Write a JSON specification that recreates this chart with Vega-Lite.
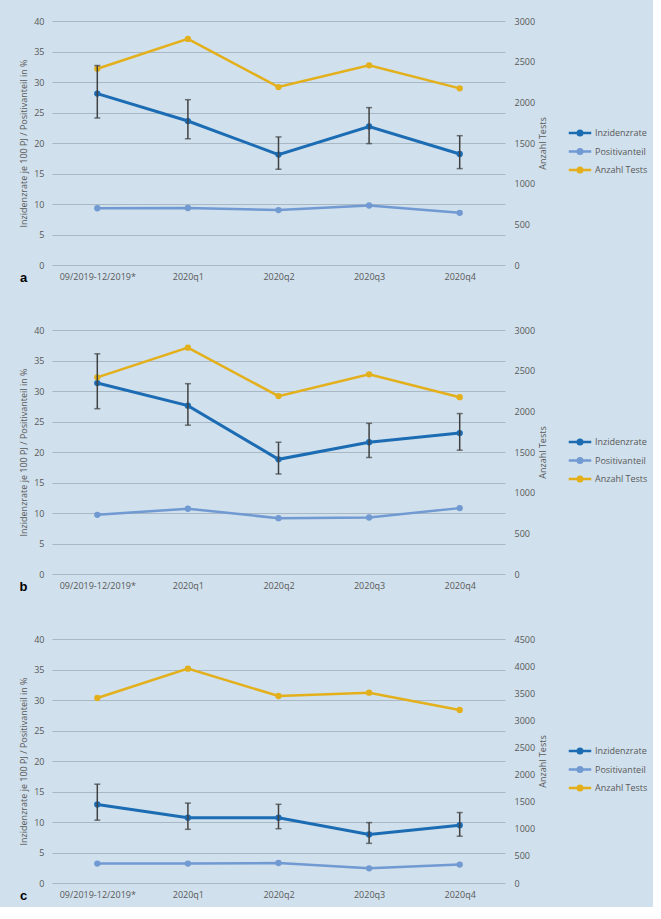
{
  "$schema": "https://vega.github.io/schema/vega-lite/v6.json",
  "background": "#d0e0ec",
  "padding": {"left": 19, "top": 17, "right": 5, "bottom": 5},
  "datasets": {
    "rows": [
      {"panel": "a", "period": "09/2019-12/2019*", "series": "Inzidenzrate", "value": 28.1, "lo": 24.1, "hi": 32.7},
      {"panel": "a", "period": "2020q1", "series": "Inzidenzrate", "value": 23.6, "lo": 20.7, "hi": 27.1},
      {"panel": "a", "period": "2020q2", "series": "Inzidenzrate", "value": 18.1, "lo": 15.7, "hi": 21.0},
      {"panel": "a", "period": "2020q3", "series": "Inzidenzrate", "value": 22.7, "lo": 19.9, "hi": 25.8},
      {"panel": "a", "period": "2020q4", "series": "Inzidenzrate", "value": 18.2, "lo": 15.8, "hi": 21.2},
      {"panel": "a", "period": "09/2019-12/2019*", "series": "Positivanteil", "value": 9.3},
      {"panel": "a", "period": "2020q1", "series": "Positivanteil", "value": 9.35},
      {"panel": "a", "period": "2020q2", "series": "Positivanteil", "value": 9.0},
      {"panel": "a", "period": "2020q3", "series": "Positivanteil", "value": 9.75},
      {"panel": "a", "period": "2020q4", "series": "Positivanteil", "value": 8.55},
      {"panel": "a", "period": "09/2019-12/2019*", "series": "Anzahl Tests", "value": 2413},
      {"panel": "a", "period": "2020q1", "series": "Anzahl Tests", "value": 2780},
      {"panel": "a", "period": "2020q2", "series": "Anzahl Tests", "value": 2188},
      {"panel": "a", "period": "2020q3", "series": "Anzahl Tests", "value": 2455},
      {"panel": "a", "period": "2020q4", "series": "Anzahl Tests", "value": 2172},
      {"panel": "b", "period": "09/2019-12/2019*", "series": "Inzidenzrate", "value": 31.3, "lo": 27.1, "hi": 36.1},
      {"panel": "b", "period": "2020q1", "series": "Inzidenzrate", "value": 27.6, "lo": 24.4, "hi": 31.2},
      {"panel": "b", "period": "2020q2", "series": "Inzidenzrate", "value": 18.8, "lo": 16.4, "hi": 21.6},
      {"panel": "b", "period": "2020q3", "series": "Inzidenzrate", "value": 21.6, "lo": 19.1, "hi": 24.7},
      {"panel": "b", "period": "2020q4", "series": "Inzidenzrate", "value": 23.1, "lo": 20.3, "hi": 26.3},
      {"panel": "b", "period": "09/2019-12/2019*", "series": "Positivanteil", "value": 9.7},
      {"panel": "b", "period": "2020q1", "series": "Positivanteil", "value": 10.7},
      {"panel": "b", "period": "2020q2", "series": "Positivanteil", "value": 9.15},
      {"panel": "b", "period": "2020q3", "series": "Positivanteil", "value": 9.26},
      {"panel": "b", "period": "2020q4", "series": "Positivanteil", "value": 10.8},
      {"panel": "b", "period": "09/2019-12/2019*", "series": "Anzahl Tests", "value": 2418},
      {"panel": "b", "period": "2020q1", "series": "Anzahl Tests", "value": 2783},
      {"panel": "b", "period": "2020q2", "series": "Anzahl Tests", "value": 2187},
      {"panel": "b", "period": "2020q3", "series": "Anzahl Tests", "value": 2455},
      {"panel": "b", "period": "2020q4", "series": "Anzahl Tests", "value": 2174},
      {"panel": "c", "period": "09/2019-12/2019*", "series": "Inzidenzrate", "value": 12.87, "lo": 10.3, "hi": 16.2},
      {"panel": "c", "period": "2020q1", "series": "Inzidenzrate", "value": 10.7, "lo": 8.8, "hi": 13.1},
      {"panel": "c", "period": "2020q2", "series": "Inzidenzrate", "value": 10.7, "lo": 8.9, "hi": 12.9},
      {"panel": "c", "period": "2020q3", "series": "Inzidenzrate", "value": 7.95, "lo": 6.5, "hi": 9.9},
      {"panel": "c", "period": "2020q4", "series": "Inzidenzrate", "value": 9.47, "lo": 7.67, "hi": 11.55},
      {"panel": "c", "period": "09/2019-12/2019*", "series": "Positivanteil", "value": 3.18},
      {"panel": "c", "period": "2020q1", "series": "Positivanteil", "value": 3.18},
      {"panel": "c", "period": "2020q2", "series": "Positivanteil", "value": 3.28},
      {"panel": "c", "period": "2020q3", "series": "Positivanteil", "value": 2.41},
      {"panel": "c", "period": "2020q4", "series": "Positivanteil", "value": 3.02},
      {"panel": "c", "period": "09/2019-12/2019*", "series": "Anzahl Tests", "value": 3412},
      {"panel": "c", "period": "2020q1", "series": "Anzahl Tests", "value": 3953},
      {"panel": "c", "period": "2020q2", "series": "Anzahl Tests", "value": 3449},
      {"panel": "c", "period": "2020q3", "series": "Anzahl Tests", "value": 3510},
      {"panel": "c", "period": "2020q4", "series": "Anzahl Tests", "value": 3190}
    ]
  },
  "spacing": 65,
  "bounds": "flush",
  "resolve": {"scale": {"color": "independent"}},
  "vconcat": [
    {
      "width": 453, "height": 244,
      "data": {"name": "rows"},
      "transform": [{"filter": "datum.panel == 'a'"}],
      "encoding": {
        "x": {"field": "period", "type": "ordinal",
          "scale": {"type": "point", "padding": 0.5, "domain": ["09/2019-12/2019*", "2020q1", "2020q2", "2020q3", "2020q4"]},
          "axis": {"title": "a", "titleX": -29, "titleY": 12, "titleAlign": "center", "titleBaseline": "middle", "titleAngle": 0, "titleFont": "Liberation Sans", "titleFontSize": 13, "titleFontWeight": "bold", "titleColor": "#000000", "labelAngle": 0, "labelPadding": 7, "grid": false}}
      },
      "layer": [
        {
          "transform": [{"filter": "datum.series != 'Anzahl Tests'"}],
          "mark": {"type": "line", "point": {"filled": true, "size": 40}},
          "encoding": {
            "y": {"field": "value", "type": "quantitative", "scale": {"domain": [0, 40]},
              "axis": {"title": "Inzidenzrate je 100 PJ / Positivanteil in %", "values": [0, 5, 10, 15, 20, 25, 30, 35, 40], "grid": true, "labelPadding": 8, "titlePadding": 5}},
            "color": {"field": "series", "type": "nominal",
              "scale": {"domain": ["Inzidenzrate", "Positivanteil", "Anzahl Tests"], "range": ["#1c6cb4", "#7199d2", "#e3b01c"]},
              "legend": {"title": null, "orient": "none", "legendX": 519, "legendY": 103, "padding": 0, "symbolType": "M-1.5,0H1.5M0.3,0A0.3,0.3,0,1,1,-0.3,0A0.3,0.3,0,1,1,0.3,0Z", "symbolSize": 225, "symbolStrokeWidth": 2.5, "labelFont": "Open Sans", "labelFontSize": 9, "labelColor": "#595959", "labelOffset": 6, "rowPadding": 1.5}},
            "strokeWidth": {"condition": {"test": "datum.series == 'Inzidenzrate'", "value": 3}, "value": 2.5}
          }
        },
        {
          "transform": [{"filter": "datum.series == 'Anzahl Tests'"}],
          "mark": {"type": "line", "point": {"filled": true, "size": 40}, "strokeWidth": 2.5},
          "encoding": {
            "y": {"field": "value", "type": "quantitative", "scale": {"domain": [0, 3000]},
              "axis": {"orient": "right", "title": "Anzahl Tests", "titleAngle": -90, "titleBaseline": "top", "format": "d", "values": [0, 500, 1000, 1500, 2000, 2500, 3000], "grid": false, "labelPadding": 9, "titlePadding": 4}},
            "color": {"field": "series", "type": "nominal"}
          }
        },
        {
          "transform": [{"filter": "datum.series == 'Inzidenzrate'"}],
          "mark": {"type": "rule", "color": "#404040", "strokeWidth": 1.5},
          "encoding": {
            "y": {"field": "lo", "type": "quantitative", "scale": {"domain": [0, 40]}, "axis": null},
            "y2": {"field": "hi"}
          }
        },
        {
          "transform": [{"filter": "datum.series == 'Inzidenzrate'"}],
          "mark": {"type": "tick", "color": "#404040", "size": 6, "thickness": 1.5, "orient": "horizontal"},
          "encoding": {"y": {"field": "lo", "type": "quantitative", "scale": {"domain": [0, 40]}, "axis": null}}
        },
        {
          "transform": [{"filter": "datum.series == 'Inzidenzrate'"}],
          "mark": {"type": "tick", "color": "#404040", "size": 6, "thickness": 1.5, "orient": "horizontal"},
          "encoding": {"y": {"field": "hi", "type": "quantitative", "scale": {"domain": [0, 40]}, "axis": null}}
        }
      ],
      "resolve": {"scale": {"y": "independent"}}
    },
    {
      "width": 453, "height": 244,
      "data": {"name": "rows"},
      "transform": [{"filter": "datum.panel == 'b'"}],
      "encoding": {
        "x": {"field": "period", "type": "ordinal",
          "scale": {"type": "point", "padding": 0.5, "domain": ["09/2019-12/2019*", "2020q1", "2020q2", "2020q3", "2020q4"]},
          "axis": {"title": "b", "titleX": -29, "titleY": 12, "titleAlign": "center", "titleBaseline": "middle", "titleAngle": 0, "titleFont": "Liberation Sans", "titleFontSize": 13, "titleFontWeight": "bold", "titleColor": "#000000", "labelAngle": 0, "labelPadding": 7, "grid": false}}
      },
      "layer": [
        {
          "transform": [{"filter": "datum.series != 'Anzahl Tests'"}],
          "mark": {"type": "line", "point": {"filled": true, "size": 40}},
          "encoding": {
            "y": {"field": "value", "type": "quantitative", "scale": {"domain": [0, 40]},
              "axis": {"title": "Inzidenzrate je 100 PJ / Positivanteil in %", "values": [0, 5, 10, 15, 20, 25, 30, 35, 40], "grid": true, "labelPadding": 8, "titlePadding": 5}},
            "color": {"field": "series", "type": "nominal",
              "scale": {"domain": ["Inzidenzrate", "Positivanteil", "Anzahl Tests"], "range": ["#1c6cb4", "#7199d2", "#e3b01c"]},
              "legend": {"title": null, "orient": "none", "legendX": 519, "legendY": 103, "padding": 0, "symbolType": "M-1.5,0H1.5M0.3,0A0.3,0.3,0,1,1,-0.3,0A0.3,0.3,0,1,1,0.3,0Z", "symbolSize": 225, "symbolStrokeWidth": 2.5, "labelFont": "Open Sans", "labelFontSize": 9, "labelColor": "#595959", "labelOffset": 6, "rowPadding": 1.5}},
            "strokeWidth": {"condition": {"test": "datum.series == 'Inzidenzrate'", "value": 3}, "value": 2.5}
          }
        },
        {
          "transform": [{"filter": "datum.series == 'Anzahl Tests'"}],
          "mark": {"type": "line", "point": {"filled": true, "size": 40}, "strokeWidth": 2.5},
          "encoding": {
            "y": {"field": "value", "type": "quantitative", "scale": {"domain": [0, 3000]},
              "axis": {"orient": "right", "title": "Anzahl Tests", "titleAngle": -90, "titleBaseline": "top", "format": "d", "values": [0, 500, 1000, 1500, 2000, 2500, 3000], "grid": false, "labelPadding": 9, "titlePadding": 4}},
            "color": {"field": "series", "type": "nominal"}
          }
        },
        {
          "transform": [{"filter": "datum.series == 'Inzidenzrate'"}],
          "mark": {"type": "rule", "color": "#404040", "strokeWidth": 1.5},
          "encoding": {
            "y": {"field": "lo", "type": "quantitative", "scale": {"domain": [0, 40]}, "axis": null},
            "y2": {"field": "hi"}
          }
        },
        {
          "transform": [{"filter": "datum.series == 'Inzidenzrate'"}],
          "mark": {"type": "tick", "color": "#404040", "size": 6, "thickness": 1.5, "orient": "horizontal"},
          "encoding": {"y": {"field": "lo", "type": "quantitative", "scale": {"domain": [0, 40]}, "axis": null}}
        },
        {
          "transform": [{"filter": "datum.series == 'Inzidenzrate'"}],
          "mark": {"type": "tick", "color": "#404040", "size": 6, "thickness": 1.5, "orient": "horizontal"},
          "encoding": {"y": {"field": "hi", "type": "quantitative", "scale": {"domain": [0, 40]}, "axis": null}}
        }
      ],
      "resolve": {"scale": {"y": "independent"}}
    },
    {
      "width": 453, "height": 244,
      "data": {"name": "rows"},
      "transform": [{"filter": "datum.panel == 'c'"}],
      "encoding": {
        "x": {"field": "period", "type": "ordinal",
          "scale": {"type": "point", "padding": 0.5, "domain": ["09/2019-12/2019*", "2020q1", "2020q2", "2020q3", "2020q4"]},
          "axis": {"title": "c", "titleX": -29, "titleY": 12, "titleAlign": "center", "titleBaseline": "middle", "titleAngle": 0, "titleFont": "Liberation Sans", "titleFontSize": 13, "titleFontWeight": "bold", "titleColor": "#000000", "labelAngle": 0, "labelPadding": 7, "grid": false}}
      },
      "layer": [
        {
          "transform": [{"filter": "datum.series != 'Anzahl Tests'"}],
          "mark": {"type": "line", "point": {"filled": true, "size": 40}},
          "encoding": {
            "y": {"field": "value", "type": "quantitative", "scale": {"domain": [0, 40]},
              "axis": {"title": "Inzidenzrate je 100 PJ / Positivanteil in %", "values": [0, 5, 10, 15, 20, 25, 30, 35, 40], "grid": true, "labelPadding": 8, "titlePadding": 5}},
            "color": {"field": "series", "type": "nominal",
              "scale": {"domain": ["Inzidenzrate", "Positivanteil", "Anzahl Tests"], "range": ["#1c6cb4", "#7199d2", "#e3b01c"]},
              "legend": {"title": null, "orient": "none", "legendX": 519, "legendY": 103, "padding": 0, "symbolType": "M-1.5,0H1.5M0.3,0A0.3,0.3,0,1,1,-0.3,0A0.3,0.3,0,1,1,0.3,0Z", "symbolSize": 225, "symbolStrokeWidth": 2.5, "labelFont": "Open Sans", "labelFontSize": 9, "labelColor": "#595959", "labelOffset": 6, "rowPadding": 1.5}},
            "strokeWidth": {"condition": {"test": "datum.series == 'Inzidenzrate'", "value": 3}, "value": 2.5}
          }
        },
        {
          "transform": [{"filter": "datum.series == 'Anzahl Tests'"}],
          "mark": {"type": "line", "point": {"filled": true, "size": 40}, "strokeWidth": 2.5},
          "encoding": {
            "y": {"field": "value", "type": "quantitative", "scale": {"domain": [0, 4500]},
              "axis": {"orient": "right", "title": "Anzahl Tests", "titleAngle": -90, "titleBaseline": "top", "format": "d", "values": [0, 500, 1000, 1500, 2000, 2500, 3000, 3500, 4000, 4500], "grid": false, "labelPadding": 9, "titlePadding": 4}},
            "color": {"field": "series", "type": "nominal"}
          }
        },
        {
          "transform": [{"filter": "datum.series == 'Inzidenzrate'"}],
          "mark": {"type": "rule", "color": "#404040", "strokeWidth": 1.5},
          "encoding": {
            "y": {"field": "lo", "type": "quantitative", "scale": {"domain": [0, 40]}, "axis": null},
            "y2": {"field": "hi"}
          }
        },
        {
          "transform": [{"filter": "datum.series == 'Inzidenzrate'"}],
          "mark": {"type": "tick", "color": "#404040", "size": 6, "thickness": 1.5, "orient": "horizontal"},
          "encoding": {"y": {"field": "lo", "type": "quantitative", "scale": {"domain": [0, 40]}, "axis": null}}
        },
        {
          "transform": [{"filter": "datum.series == 'Inzidenzrate'"}],
          "mark": {"type": "tick", "color": "#404040", "size": 6, "thickness": 1.5, "orient": "horizontal"},
          "encoding": {"y": {"field": "hi", "type": "quantitative", "scale": {"domain": [0, 40]}, "axis": null}}
        }
      ],
      "resolve": {"scale": {"y": "independent"}}
    }
  ],
  "config": {
    "view": {"stroke": null},
    "font": "Open Sans",
    "axis": {
      "domain": false, "ticks": false,
      "labelFont": "Open Sans", "labelFontSize": 9, "labelColor": "#595959",
      "titleFont": "Open Sans", "titleFontSize": 9, "titleFontWeight": "normal", "titleColor": "#595959",
      "gridColor": "#a9b8c5", "gridWidth": 1, "gridOpacity": 1
    }
  }
}
